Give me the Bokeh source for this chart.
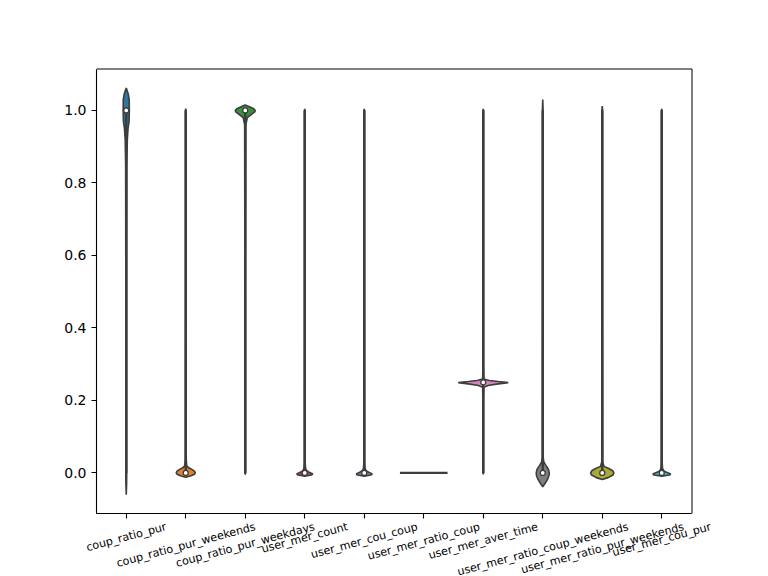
import math
from bokeh.plotting import figure
from bokeh.models import (FixedTicker, NumeralTickFormatter, Range1d, LinearAxis,
                          CustomJSTickFormatter, BoxAnnotation)
from bokeh.embed import file_html
from bokeh.resources import INLINE

categories = ["coup_ratio_pur", "coup_ratio_pur_weekends", "coup_ratio_pur_weekdays",
              "user_mer_count", "user_mer_cou_coup", "user_mer_ratio_coup",
              "user_mer_aver_time", "user_mer_ratio_coup_weekends",
              "user_mer_ratio_pur_weekends", "user_mer_cou_pur"]
colors = ["#3274a1", "#e1812c", "#3a923a", "#c03d3e", "#9372b2",
          "#845b53", "#d684bd", "#7f7f7f", "#a9aa35", "#2ebece"]
medians = [1.0, 0.0, 1.0, 0.0, 0.0, None, 0.25, 0.0, 0.0, 0.0]
whisker_lo = [0.0, 0.0, 0.0, 0.0, 0.0, None, 0.0, 0.0, 0.0, 0.0]
whisker_hi = [1.0, 1.0, 1.0, 1.0, 1.0, None, 1.0, 1.0, 1.0, 1.0]
single_value = [None, None, None, None, None, 0.0, None, None, None, None]
y_ticks = [0.0, 0.2, 0.4, 0.6, 0.8, 1.0]

# violin density profiles (value, half-width in category units)
v0_y = [-0.06, -0.03, 0.0, 0.3, 0.6, 0.85, 0.92, 0.95, 0.97, 1.0, 1.03, 1.045, 1.055, 1.062]
v0_w = [0.0, 0.006, 0.008, 0.008, 0.008, 0.01, 0.018, 0.03, 0.048, 0.052, 0.05, 0.035, 0.015, 0.0]
v1_y = [-0.012, -0.008, -0.004, 0.0, 0.004, 0.009, 0.014, 0.02, 0.04, 0.5, 1.0, 1.005]
v1_w = [0.0, 0.09, 0.145, 0.16, 0.15, 0.11, 0.05, 0.015, 0.008, 0.006, 0.006, 0.0]
v2_y = [-0.005, 0.0, 0.5, 0.96, 0.98, 0.99, 0.996, 1.0, 1.005, 1.01, 1.015]
v2_w = [0.0, 0.006, 0.006, 0.01, 0.035, 0.11, 0.16, 0.168, 0.14, 0.07, 0.0]
v3_y = [-0.009, -0.006, -0.003, 0.0, 0.004, 0.008, 0.014, 0.03, 0.5, 1.0, 1.004]
v3_w = [0.0, 0.11, 0.135, 0.1, 0.05, 0.025, 0.012, 0.007, 0.006, 0.006, 0.0]
v4_y = [-0.009, -0.006, -0.003, 0.0, 0.004, 0.008, 0.014, 0.03, 0.5, 1.0, 1.004]
v4_w = [0.0, 0.11, 0.135, 0.1, 0.05, 0.025, 0.012, 0.007, 0.006, 0.006, 0.0]
v5_y = []
v5_w = []
v6_y = [-0.004, 0.0, 0.2, 0.236, 0.241, 0.245, 0.249, 0.252, 0.255, 0.259, 0.3, 1.0, 1.004]
v6_w = [0.0, 0.006, 0.006, 0.01, 0.08, 0.22, 0.42, 0.25, 0.1, 0.01, 0.006, 0.006, 0.0]
v7_y = [-0.038, -0.03, -0.018, -0.007, 0.0, 0.01, 0.02, 0.03, 0.042, 0.5, 1.0, 1.03]
v7_w = [0.0, 0.035, 0.08, 0.105, 0.11, 0.095, 0.055, 0.018, 0.008, 0.006, 0.006, 0.0]
v8_y = [-0.018, -0.013, -0.006, 0.0, 0.006, 0.012, 0.018, 0.03, 0.5, 1.0, 1.012]
v8_w = [0.0, 0.1, 0.18, 0.195, 0.175, 0.11, 0.03, 0.008, 0.006, 0.006, 0.0]
v9_y = [-0.009, -0.006, -0.003, 0.0, 0.004, 0.008, 0.014, 0.03, 0.5, 1.0, 1.004]
v9_w = [0.0, 0.13, 0.15, 0.11, 0.05, 0.025, 0.012, 0.007, 0.006, 0.006, 0.0]

profiles_y = [v0_y, v1_y, v2_y, v3_y, v4_y, v5_y, v6_y, v7_y, v8_y, v9_y]
profiles_w = [v0_w, v1_w, v2_w, v3_w, v4_w, v5_w, v6_w, v7_w, v8_w, v9_w]

GRAY = "#3d3d3d"
# visible axes box (data units) and its size in pixels
X0, X1 = -0.5, 9.5
Y0, Y1 = -0.112, 1.113
BOX_W, BOX_H = 595, 444
LEFT, TOP, BOTTOM_BORDER = 96, 69, 63
PXX = BOX_W / (X1 - X0)
PXY = BOX_H / (Y1 - Y0)
# the drawing frame extends right to the window edge and a little above the box,
# so that the last rotated category label can still be placed
FRAME_W = 768 - LEFT
EXTRA_TOP = 10
FRAME_H = BOX_H + EXTRA_TOP
XR_END = X0 + FRAME_W / PXX
YR_END = Y1 + EXTRA_TOP / PXY

p = figure(frame_width=FRAME_W, frame_height=FRAME_H,
           min_border_left=LEFT, min_border_right=0, min_border_top=TOP - EXTRA_TOP,
           min_border_bottom=BOTTOM_BORDER,
           x_range=Range1d(X0, XR_END), y_range=Range1d(Y0, YR_END),
           output_backend="svg", toolbar_location=None,
           background_fill_color="white", border_fill_color="white")
p.xgrid.visible = False
p.ygrid.visible = False
p.outline_line_color = None

# axes box (top/right edges nudged half a pixel so the 1px line is crisp)
p.add_layout(BoxAnnotation(left=X0, right=X1 + 0.5 / PXX, bottom=Y0, top=Y1 + 0.5 / PXY,
                           fill_alpha=0, line_color="black", line_alpha=1.0,
                           line_width=1.0))

# violins
xs, ys, fills = [], [], []
for i in range(len(categories)):
    Y = profiles_y[i]
    W = profiles_w[i]
    if not Y:
        continue
    xs.append([i + w for w in W] + [i - w for w in reversed(W)])
    ys.append(list(Y) + list(reversed(Y)))
    fills.append(colors[i])
p.patches(xs, ys, fill_color=fills, line_color=GRAY, line_width=1.6)

# single-observation lines
for i, v in enumerate(single_value):
    if v is not None:
        p.line([i - 0.4, i + 0.4], [v, v], line_color=GRAY, line_width=2.1)

# whisker lines
wx0, wy0, wx1, wy1 = [], [], [], []
for i in range(len(categories)):
    if whisker_lo[i] is None:
        continue
    wx0.append(i); wx1.append(i)
    wy0.append(whisker_lo[i]); wy1.append(whisker_hi[i])
p.segment(wx0, wy0, wx1, wy1, line_color=GRAY, line_width=2.4)

# medians
mx = [i for i, m in enumerate(medians) if m is not None]
my = [m for m in medians if m is not None]
p.scatter(mx, my, size=5, fill_color="white", line_color=GRAY, line_width=1.3)

# axes
p.yaxis.ticker = FixedTicker(ticks=y_ticks)
p.yaxis.formatter = NumeralTickFormatter(format="0.0")
p.yaxis.bounds = (Y0, Y1)
p.yaxis.major_label_text_font = "DejaVu Sans"
p.yaxis.major_label_text_font_size = "14px"
p.yaxis.major_label_text_color = "black"
p.yaxis.major_label_standoff = 5
p.xaxis.ticker = FixedTicker(ticks=list(range(len(categories))))
p.xaxis.bounds = (X0, X1)
p.xaxis.major_label_text_color = None
p.xaxis.major_label_text_font_size = "1px"
p.xaxis.major_label_standoff = 0
for ax in (p.xaxis, p.yaxis):
    ax.major_tick_out = 5
    ax.major_tick_in = 0
    ax.minor_tick_out = 0
    ax.minor_tick_in = 0
    ax.major_tick_line_color = "black"
    ax.major_tick_line_width = 1.1
    ax.axis_line_color = "black"
    ax.axis_line_width = 1.1

# rotated category labels: second axis whose ticks sit at the right end of each
# label so that every rotated label ends up centred under its category tick
FS = 11.1
ANG = math.radians(15)
cw = {"_": 0.5, "c": 0.55, "o": 0.612, "u": 0.634, "p": 0.635, "r": 0.411, "a": 0.613,
      "t": 0.392, "i": 0.278, "w": 0.818, "e": 0.615, "k": 0.579, "n": 0.634, "d": 0.635,
      "s": 0.521, "y": 0.592, "m": 0.974, "v": 0.592, "l": 0.278}
label_ticks = []
for i, lab in enumerate(categories):
    L = sum(cw.get(ch, 0.6) for ch in lab) * FS
    label_ticks.append(i + (L / 2) * math.cos(ANG) / PXX)

lab_axis = LinearAxis(
    ticker=FixedTicker(ticks=label_ticks),
    formatter=CustomJSTickFormatter(args=dict(labels=categories), code="return labels[index]"),
    major_label_orientation=ANG,
    major_label_text_font="DejaVu Sans",
    major_label_text_font_size=f"{FS}px",
    major_label_text_color="black",
    major_label_standoff=8,
    major_tick_out=0, major_tick_in=0, minor_tick_out=0, minor_tick_in=0,
    axis_line_color=None,
)
p.add_layout(lab_axis, "below")

open("out.html", "w").write(file_html(p, INLINE))
